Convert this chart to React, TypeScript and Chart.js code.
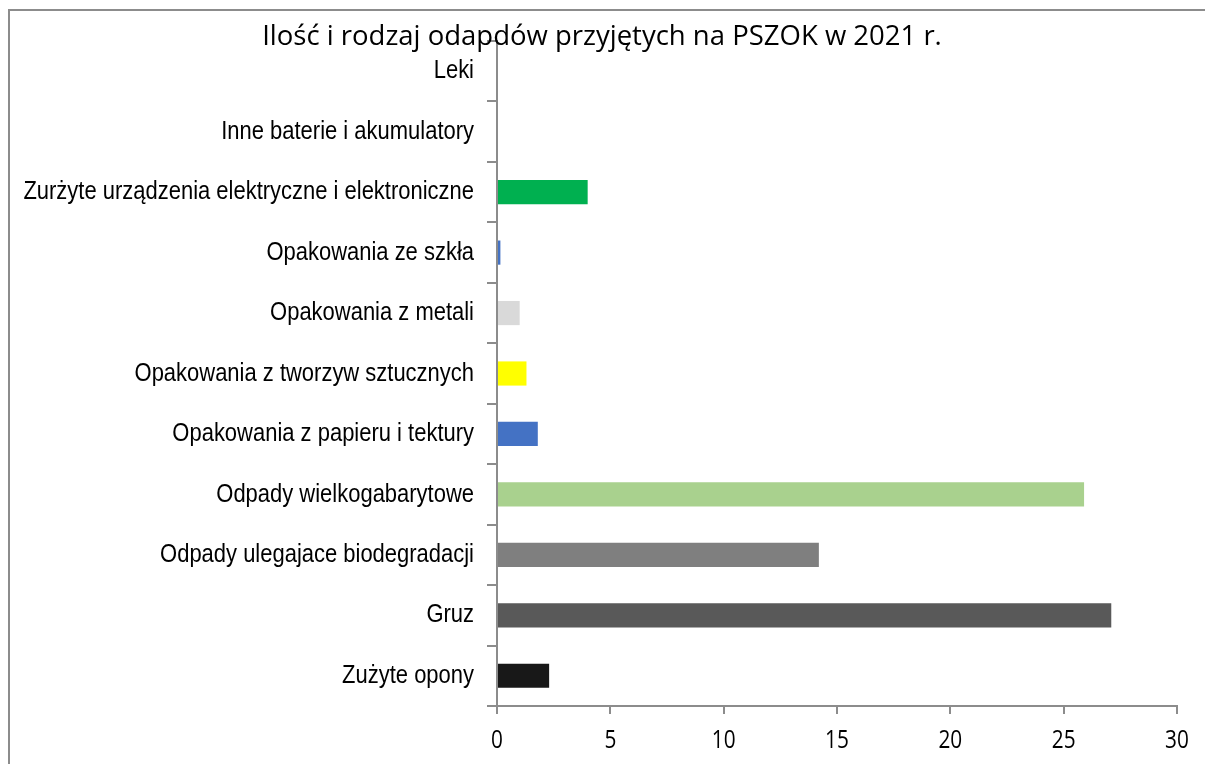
import React, { useEffect, useRef } from "react";
import { Chart, registerables } from "chart.js";

Chart.register(...registerables);

const title = "Ilość i rodzaj odapdów przyjętych na PSZOK w 2021 r.";
const categories = [
  "Leki",
  "Inne baterie i akumulatory",
  "Zurżyte urządzenia elektryczne i elektroniczne",
  "Opakowania ze szkła",
  "Opakowania z metali",
  "Opakowania z tworzyw sztucznych",
  "Opakowania z papieru i tektury",
  "Odpady wielkogabarytowe",
  "Odpady ulegajace biodegradacji",
  "Gruz",
  "Zużyte opony",
];
const values = [0, 0, 4.0, 0.15, 1.0, 1.3, 1.8, 25.9, 14.2, 27.1, 2.3];
const barColors = [
  "#4472c4",
  "#4472c4",
  "#00b050",
  "#4472c4",
  "#d9d9d9",
  "#ffff00",
  "#4472c4",
  "#a9d18e",
  "#7f7f7f",
  "#595959",
  "#181818",
];
const xTicks = [0, 5, 10, 15, 20, 25, 30];

const titlePlugin = {
  id: "overlayTitle",
  afterDraw(chart: any) {
    const ctx = chart.ctx;
    ctx.save();
    ctx.font = "27.5px 'Open Sans'";
    ctx.fillStyle = "#000";
    ctx.textAlign = "center";
    ctx.textBaseline = "alphabetic";
    ctx.fillText(title, 602, 45);
    ctx.restore();
  },
};

// Draws the axis tick labels horizontally condensed, as in the reference
const condensedLabels = {
  id: "condensedLabels",
  afterDraw(chart: any) {
    const ctx = chart.ctx;
    const ys = chart.scales.y;
    const xs = chart.scales.x;
    ctx.save();
    ctx.fillStyle = "#000";
    ctx.font = "26px 'Liberation Sans'";
    ctx.textAlign = "right";
    ctx.textBaseline = "middle";
    categories.forEach((lab, i) => {
      const y = ys.getPixelForTick(i);
      ctx.save();
      ctx.translate(ys.right - 23, y);
      ctx.scale(0.845, 1);
      ctx.fillText(lab, 0, 0);
      ctx.restore();
    });
    ctx.font = "26px 'Open Sans'";
    ctx.textAlign = "center";
    xTicks.forEach((v) => {
      const x = xs.getPixelForValue(v);
      ctx.save();
      ctx.translate(x, xs.top + 35);
      ctx.scale(0.8, 1);
      ctx.fillText(String(v), 0, 0);
      ctx.restore();
    });
    ctx.restore();
  },
};

export default function App() {
  const ref = useRef<HTMLCanvasElement | null>(null);
  useEffect(() => {
    document.body.style.margin = "0";
    const chart = new Chart(ref.current!, {
      type: "bar",
      data: {
        labels: categories,
        datasets: [
          {
            data: values,
            backgroundColor: barColors,
            borderWidth: 0,
            barPercentage: 0.4,
            categoryPercentage: 1,
          },
        ],
      },
      plugins: [titlePlugin, condensedLabels],
      options: {
        indexAxis: "y",
        animation: false,
        responsive: false,
        maintainAspectRatio: false,
        layout: { padding: { left: 0, top: 41, right: 28, bottom: 0 } },
        plugins: { legend: { display: false }, tooltip: { enabled: false }, title: { display: false } },
        scales: {
          x: {
            min: 0,
            max: 30,
            afterBuildTicks: (scale: any) => {
              scale.ticks = xTicks.map((v) => ({ value: v }));
            },
            afterFit: (scale: any) => {
              scale.height = 58;
            },
            grid: { drawOnChartArea: false, drawTicks: true, tickLength: 8, color: "#8c8c8c", lineWidth: 2 },
            border: { display: true, color: "#8c8c8c", width: 2 },
            ticks: { display: false },
          },
          y: {
            afterFit: (scale: any) => {
              scale.width = 497;
            },
            grid: { drawOnChartArea: false, drawTicks: true, tickLength: 10, color: "#8c8c8c", lineWidth: 2, offset: true },
            border: { display: true, color: "#8c8c8c", width: 2 },
            ticks: { display: false, autoSkip: false },
          },
        },
      },
    });
    return () => chart.destroy();
  }, []);
  return (
    <div style={{ position: "relative", width: 1205, height: 764, background: "#fff", overflow: "hidden" }}>
      <canvas ref={ref} width={1205} height={764} style={{ position: "absolute", left: 0, top: 0 }} />
      <div
        style={{
          position: "absolute",
          left: 8,
          top: 9,
          width: 1210,
          height: 770,
          borderTop: "2px solid #8c8c8c",
          borderLeft: "2px solid #8c8c8c",
          pointerEvents: "none",
        }}
      />
    </div>
  );
}
